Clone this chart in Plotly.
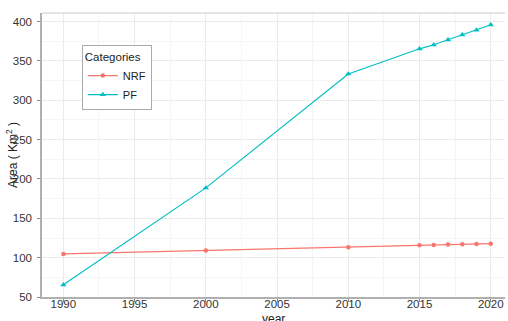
import plotly.graph_objects as go

years = [1990, 2000, 2010, 2015, 2016, 2017, 2018, 2019, 2020]
nrf = [104.8, 109.0, 113.3, 115.8, 116.2, 116.6, 117.0, 117.4, 117.8]
pf = [65.5, 188.7, 333.5, 365.5, 370.6, 377.0, 383.3, 389.3, 396.0]

fig = go.Figure()
fig.add_trace(go.Scatter(x=years, y=nrf, name="NRF", mode="lines+markers",
                         line=dict(color="#F8766D", width=1.2),
                         marker=dict(symbol="circle", size=4.5, color="#F8766D")))
fig.add_trace(go.Scatter(x=years, y=pf, name="PF", mode="lines+markers",
                         line=dict(color="#00BFC4", width=1.2),
                         marker=dict(symbol="triangle-up", size=5.5, color="#00BFC4")))

font = "Liberation Sans, Arial, sans-serif"
fig.update_layout(
    width=508, height=321,
    margin=dict(l=42, r=3, t=13, b=24, autoexpand=False),
    paper_bgcolor="white", plot_bgcolor="white",
    font=dict(family=font, size=11, color="#333333"),
    legend=dict(title=dict(text="Categories", font=dict(size=11.5, color="#222")),
                x=0.086, y=0.887, xanchor="left", yanchor="top",
                bordercolor="#AAAAAA", borderwidth=1, bgcolor="white",
                font=dict(size=11, color="#222"), tracegroupgap=0, itemwidth=30),
    xaxis=dict(range=[1988.5, 2021], dtick=5, tick0=1990, automargin=False,
               showgrid=True, gridcolor="#EBEBEB", gridwidth=1,
               minor=dict(dtick=2.5, showgrid=True, gridcolor="#F5F5F5", gridwidth=0.8),
               showline=True, linecolor="#B0B0B0", linewidth=1.5,
               ticks="outside", ticklen=3, tickcolor="#888", zeroline=False,
               ticklabelstandoff=-8,
               tickfont=dict(size=11.5, color="#333")),
    yaxis=dict(range=[50, 411], dtick=50, tick0=50, automargin=False,
               showgrid=True, gridcolor="#EBEBEB", gridwidth=1,
               minor=dict(dtick=25, showgrid=True, gridcolor="#F5F5F5", gridwidth=0.8),
               showline=True, linecolor="#B0B0B0", linewidth=1.5,
               ticks="outside", ticklen=3, tickcolor="#888", zeroline=False,
               ticklabelstandoff=3,
               tickfont=dict(size=11.5, color="#333")),
    shapes=[dict(type="line", xref="paper", yref="paper", x0=0, x1=1, y0=1, y1=1,
                 line=dict(color="#CCCCCC", width=1.2))],
    annotations=[
        dict(text="year", xref="paper", yref="paper", x=0.5, y=-0.077,
             xanchor="center", yanchor="middle", showarrow=False,
             font=dict(size=12, color="#222")),
        dict(text="Area ( Km<sup>2</sup> )", xref="paper", yref="paper",
             x=-0.065, y=0.5, xanchor="center", yanchor="middle", textangle=-90,
             showarrow=False, font=dict(size=12, color="#222")),
    ],
)

fig.write_html("out.html", config={"displayModeBar": False},
               post_script="document.body.style.margin='0';")
